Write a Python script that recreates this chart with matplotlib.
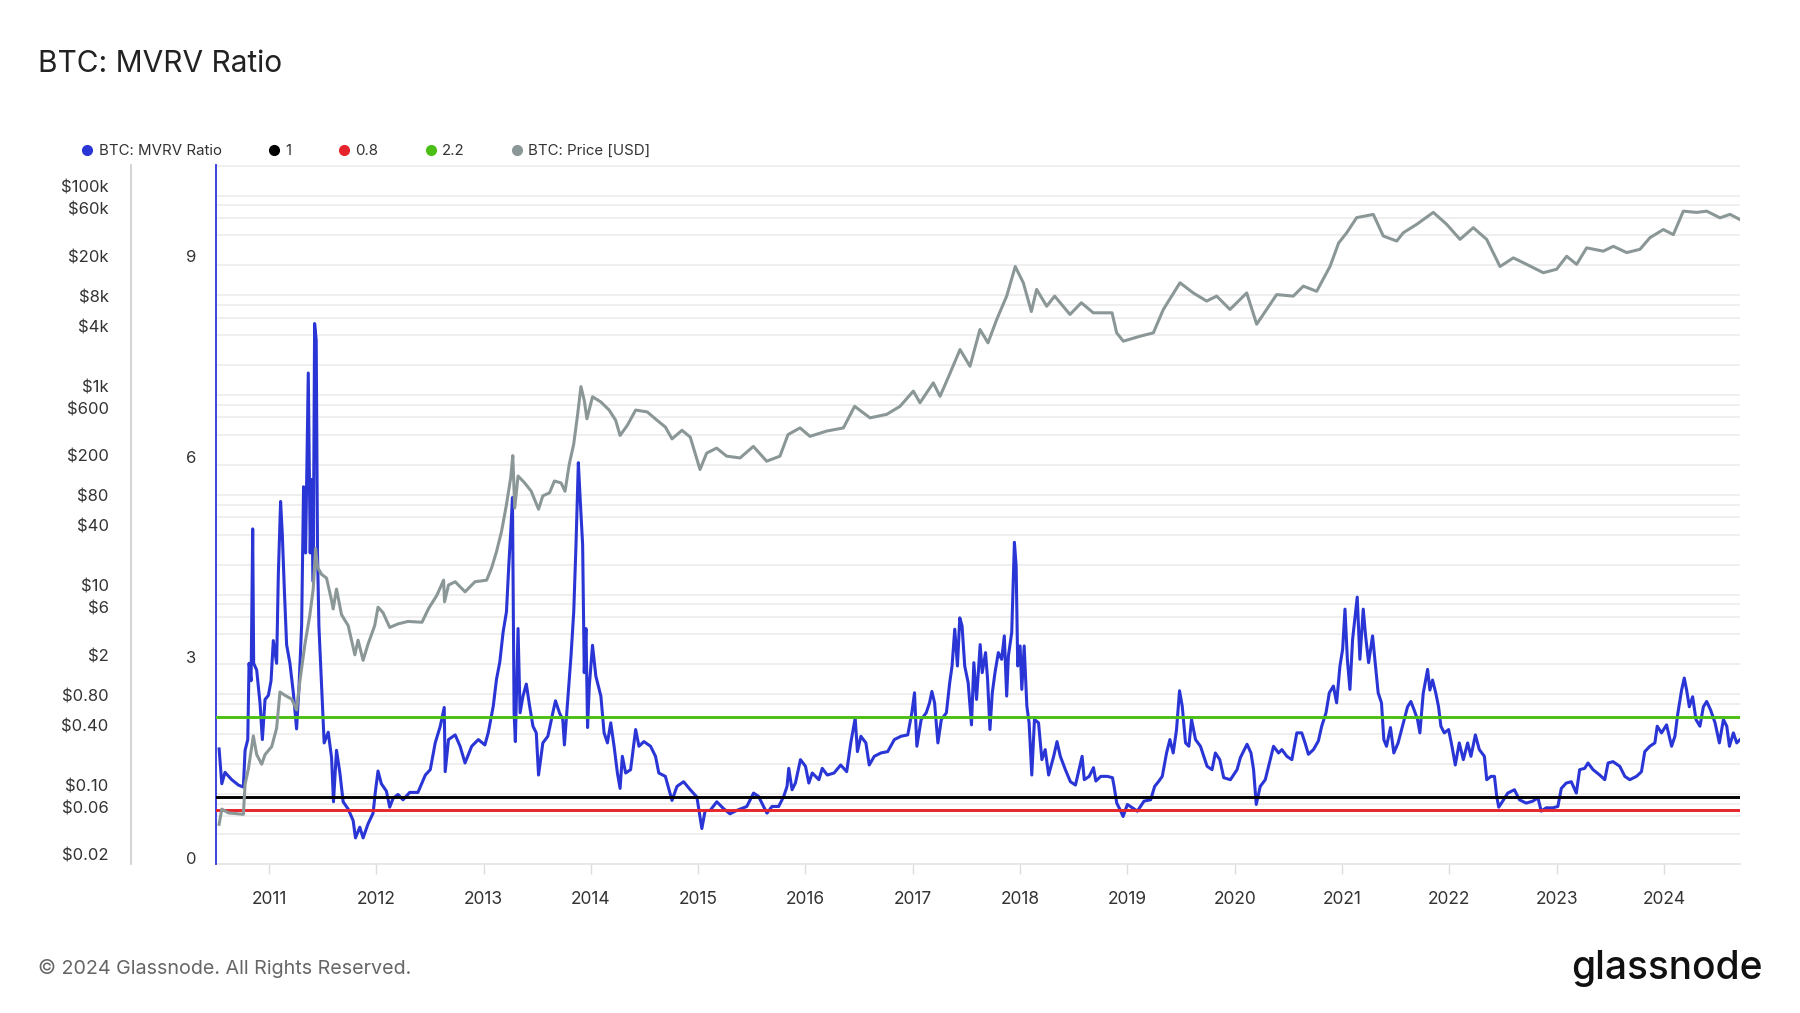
import numpy as np
import matplotlib
matplotlib.use("Agg")
import matplotlib.pyplot as plt
from matplotlib.lines import Line2D

plt.rcParams['font.family'] = ['Inter', 'DejaVu Sans']

# MVRV ratio (decimal year, value)
mvrv_year = [
    2010.535, 2010.56, 2010.59, 2010.653, 2010.715, 2010.761, 2010.777, 2010.802, 2010.814, 2010.833,
    2010.848, 2010.857, 2010.885, 2010.916, 2010.938, 2010.963, 2010.994, 2011.019, 2011.04, 2011.071,
    2011.087, 2011.108, 2011.124, 2011.143, 2011.164, 2011.195, 2011.226, 2011.257, 2011.279, 2011.304,
    2011.322, 2011.341, 2011.366, 2011.384, 2011.397, 2011.412, 2011.425, 2011.44, 2011.452, 2011.465,
    2011.49, 2011.514, 2011.552, 2011.583, 2011.601, 2011.629, 2011.66, 2011.691, 2011.738, 2011.784,
    2011.806, 2011.846, 2011.877, 2011.923, 2011.97, 2011.992, 2012.016, 2012.047, 2012.094, 2012.125,
    2012.156, 2012.202, 2012.249, 2012.311, 2012.388,
    2012.457, 2012.503, 2012.549, 2012.596, 2012.633, 2012.642, 2012.673, 2012.735, 2012.781, 2012.827,
    2012.889, 2012.951, 2013.012, 2013.043, 2013.09, 2013.12, 2013.151, 2013.182, 2013.213, 2013.235,
    2013.253, 2013.269, 2013.284, 2013.296, 2013.321, 2013.34, 2013.367, 2013.398, 2013.429, 2013.46,
    2013.491, 2013.512, 2013.552, 2013.599, 2013.645, 2013.67, 2013.707, 2013.738, 2013.753, 2013.784,
    2013.815, 2013.84, 2013.861, 2013.883, 2013.901, 2013.923, 2013.938, 2013.954, 2013.969, 2013.985,
    2014.015, 2014.046, 2014.093, 2014.123, 2014.154, 2014.185, 2014.216, 2014.247, 2014.272, 2014.293,
    2014.324, 2014.37, 2014.417, 2014.448, 2014.494, 2014.556, 2014.602, 2014.633, 2014.694, 2014.756,
    2014.802, 2014.864, 2014.926, 2014.988, 2015.034, 2015.065, 2015.111, 2015.173, 2015.235, 2015.296,
    2015.358,
    2015.453, 2015.516, 2015.563, 2015.609, 2015.641, 2015.688, 2015.75, 2015.797, 2015.828, 2015.844,
    2015.875, 2015.906, 2015.953, 2016.0, 2016.031, 2016.063, 2016.125, 2016.156, 2016.203, 2016.266,
    2016.328, 2016.384, 2016.422, 2016.463, 2016.484, 2016.516, 2016.563, 2016.594, 2016.641, 2016.703,
    2016.766, 2016.828, 2016.891, 2016.953, 2016.991, 2017.016, 2017.038, 2017.078, 2017.125, 2017.156,
    2017.178, 2017.203, 2017.234, 2017.266, 2017.313, 2017.344, 2017.366, 2017.391, 2017.416, 2017.438,
    2017.459, 2017.484, 2017.516, 2017.547, 2017.569, 2017.594, 2017.628, 2017.647, 2017.678, 2017.697,
    2017.719, 2017.741, 2017.766, 2017.797, 2017.828, 2017.853, 2017.875, 2017.891, 2017.922, 2017.947,
    2017.963, 2017.978, 2018.0, 2018.016, 2018.038, 2018.063, 2018.084, 2018.109, 2018.134, 2018.172,
    2018.203, 2018.234, 2018.266, 2018.313, 2018.344, 2018.375, 2018.422, 2018.469, 2018.516, 2018.578,
    2018.598, 2018.644, 2018.684, 2018.706, 2018.752, 2018.814, 2018.861, 2018.876, 2018.901, 2018.932,
    2018.96, 2019.0, 2019.046, 2019.093, 2019.155, 2019.217, 2019.254, 2019.294, 2019.325, 2019.365,
    2019.396, 2019.427, 2019.458, 2019.486, 2019.511, 2019.542, 2019.573, 2019.598, 2019.635, 2019.681,
    2019.743, 2019.789, 2019.82, 2019.861, 2019.898, 2019.96, 2020.022, 2020.053, 2020.115, 2020.152,
    2020.176, 2020.201, 2020.238, 2020.285, 2020.331, 2020.362, 2020.409, 2020.44, 2020.486, 2020.533,
    2020.579, 2020.625, 2020.656, 2020.687, 2020.734, 2020.78, 2020.811, 2020.851, 2020.882, 2020.92,
    2020.95, 2020.981, 2021.006, 2021.028, 2021.05, 2021.074, 2021.099, 2021.121, 2021.142, 2021.167,
    2021.198, 2021.22, 2021.248, 2021.285, 2021.316, 2021.337, 2021.368, 2021.39, 2021.415, 2021.452,
    2021.483, 2021.523,
    2021.564, 2021.611, 2021.642, 2021.673, 2021.704, 2021.726, 2021.757, 2021.798, 2021.819, 2021.844,
    2021.875, 2021.9, 2021.922, 2021.953, 2021.994, 2022.025, 2022.056, 2022.093, 2022.131, 2022.171,
    2022.202, 2022.243, 2022.28, 2022.327, 2022.349, 2022.389, 2022.421, 2022.442, 2022.461, 2022.498,
    2022.545, 2022.607, 2022.654, 2022.717, 2022.779, 2022.826, 2022.857, 2022.903, 2022.966, 2023.012,
    2023.044, 2023.09, 2023.137, 2023.184, 2023.215, 2023.262, 2023.293, 2023.34, 2023.402, 2023.449,
    2023.48, 2023.526, 2023.589, 2023.636, 2023.682, 2023.745, 2023.791, 2023.822, 2023.869, 2023.916,
    2023.938, 2023.978, 2024.025, 2024.072, 2024.103, 2024.128, 2024.165, 2024.19, 2024.212, 2024.237,
    2024.268, 2024.299, 2024.336, 2024.368, 2024.399, 2024.436, 2024.477, 2024.517, 2024.555, 2024.586,
    2024.611, 2024.648, 2024.679, 2024.71,
]
mvrv = [
    1.72, 1.20, 1.37, 1.26, 1.18, 1.15, 1.70, 1.86, 3.00, 2.74,
    5.01, 3.00, 2.90, 2.41, 1.86, 2.46, 2.52, 2.74, 3.34, 3.00,
    4.33, 5.42, 4.93, 4.10, 3.28, 3.00, 2.57, 2.02, 2.63, 3.56,
    5.64, 4.65, 7.34, 4.65, 5.75, 4.22, 8.08, 7.83, 4.65, 3.56,
    2.68, 1.81, 1.97, 1.59, 0.93, 1.70, 1.37, 0.93, 0.82, 0.65,
    0.39, 0.55, 0.39, 0.60, 0.76, 1.09, 1.39, 1.20, 1.09, 0.85,
    0.98, 1.04, 0.96, 1.07, 1.07,
    1.33, 1.41, 1.81, 2.06, 2.34, 1.38, 1.86, 1.93, 1.76, 1.51,
    1.76, 1.86, 1.78, 1.96, 2.36, 2.76, 3.02, 3.47, 3.77, 4.47,
    4.97, 5.48, 2.26, 1.83, 3.52, 2.26, 2.51, 2.69, 2.36, 2.06,
    1.96, 1.33, 1.81, 1.91, 2.26, 2.44, 2.26, 2.16, 1.78, 2.46,
    3.12, 3.77, 4.77, 6.00, 5.43, 4.77, 2.86, 3.52, 2.04, 2.66,
    3.27, 2.81, 2.51, 1.96, 1.81, 2.11, 1.76, 1.36, 1.13, 1.61,
    1.36, 1.41, 2.01, 1.76, 1.83, 1.76, 1.61, 1.36, 1.31, 0.95,
    1.16, 1.23, 1.11, 1.00, 0.53, 0.80, 0.80, 0.93, 0.83, 0.75,
    0.80,
    0.86, 1.06, 1.01, 0.86, 0.76, 0.86, 0.86, 1.01, 1.16, 1.43,
    1.11, 1.21, 1.56, 1.46, 1.21, 1.36, 1.26, 1.43, 1.33, 1.36,
    1.48, 1.38, 1.81, 2.18, 1.68, 1.91, 1.81, 1.48, 1.61, 1.66,
    1.68, 1.86, 1.91, 1.93, 2.26, 2.56, 1.76, 2.16, 2.26, 2.41,
    2.58, 2.41, 1.81, 2.16, 2.26, 2.71, 2.96, 3.51, 2.96, 3.68,
    3.56, 2.96, 2.71, 2.08, 3.01, 2.46, 3.28, 2.86, 3.16, 2.76,
    2.01, 2.56, 2.86, 3.16, 3.06, 3.41, 2.51, 3.11, 3.46, 4.81,
    4.46, 2.96, 3.26, 2.61, 3.26, 2.36, 2.11, 1.33, 2.16, 2.11,
    1.56, 1.71, 1.33, 1.61, 1.83, 1.61, 1.41, 1.23, 1.18, 1.61,
    1.26, 1.31, 1.44, 1.24, 1.31, 1.31, 1.29, 1.16, 0.91, 0.81,
    0.71, 0.89, 0.84, 0.79, 0.94, 0.96, 1.16, 1.24, 1.31, 1.66,
    1.86, 1.66, 2.01, 2.59, 2.36, 1.81, 1.76, 2.16, 1.86, 1.76,
    1.46, 1.41, 1.66, 1.56, 1.29, 1.26, 1.41, 1.59, 1.79, 1.66,
    1.41, 0.89, 1.16, 1.26, 1.56, 1.76, 1.66, 1.71, 1.61, 1.56,
    1.96, 1.96, 1.81, 1.64, 1.71, 1.84, 2.06, 2.26, 2.56, 2.66,
    2.41, 2.96, 3.21, 3.81, 3.06, 2.61, 3.36, 3.69, 3.99, 3.06,
    3.81, 3.41, 3.01, 3.41, 2.91, 2.56, 2.41, 1.86, 1.76, 2.04,
    1.66, 1.81,
    2.06, 2.35, 2.43, 2.30, 2.16, 1.96, 2.55, 2.91, 2.60, 2.75,
    2.55, 2.35, 2.06, 1.96, 2.01, 1.76, 1.48, 1.81, 1.56, 1.81,
    1.61, 1.93, 1.71, 1.61, 1.26, 1.31, 1.31, 1.01, 0.85, 0.94,
    1.06, 1.11, 0.96, 0.91, 0.94, 0.99, 0.79, 0.84, 0.84, 0.86,
    1.13, 1.21, 1.23, 1.06, 1.41, 1.43, 1.51, 1.41, 1.33, 1.26,
    1.51, 1.53, 1.46, 1.31, 1.26, 1.31, 1.38, 1.68, 1.76, 1.81,
    2.06, 1.96, 2.08, 1.76, 1.91, 2.23, 2.60, 2.78, 2.60, 2.35,
    2.50, 2.16, 2.06, 2.35, 2.43, 2.30, 2.11, 1.81, 2.16, 2.06,
    1.76, 1.96, 1.81, 1.86,
]

# BTC price in USD (decimal year, value)
price_year = [
    2010.535, 2010.56, 2010.622, 2010.761, 2010.777, 2010.808, 2010.854, 2010.885, 2010.932, 2010.963,
    2011.025, 2011.071, 2011.102, 2011.149, 2011.211, 2011.257, 2011.288, 2011.335, 2011.381, 2011.412,
    2011.434, 2011.452, 2011.49, 2011.536, 2011.583, 2011.598, 2011.629, 2011.676, 2011.738, 2011.8,
    2011.83, 2011.877, 2011.923, 2011.985, 2012.016, 2012.063, 2012.125, 2012.202, 2012.295, 2012.426,
    2012.488, 2012.565, 2012.627, 2012.636, 2012.673, 2012.735, 2012.827, 2012.92, 2013.028, 2013.074,
    2013.12, 2013.167, 2013.213, 2013.253, 2013.272, 2013.29, 2013.321, 2013.383, 2013.444, 2013.512,
    2013.552, 2013.614, 2013.66, 2013.722, 2013.759, 2013.799, 2013.84, 2013.877, 2013.907, 2013.938,
    2013.963, 2014.015, 2014.093, 2014.17, 2014.231, 2014.272, 2014.34, 2014.417, 2014.525, 2014.617,
    2014.694, 2014.756, 2014.849, 2014.926,
    2015.017, 2015.079, 2015.172, 2015.265, 2015.39, 2015.514, 2015.638, 2015.762, 2015.837, 2015.949,
    2016.042, 2016.197, 2016.353, 2016.458, 2016.601, 2016.757, 2016.881, 2017.005, 2017.067, 2017.191,
    2017.254, 2017.347, 2017.44, 2017.533, 2017.626, 2017.701, 2017.782, 2017.875, 2017.955, 2018.03,
    2018.105, 2018.154, 2018.248, 2018.322, 2018.465, 2018.571, 2018.682, 2018.857, 2018.9, 2018.962,
    2019.117, 2019.242, 2019.335, 2019.49, 2019.614, 2019.739, 2019.832, 2019.956, 2020.112, 2020.205,
    2020.298, 2020.391, 2020.546, 2020.64, 2020.764, 2020.888, 2020.969, 2021.044, 2021.137, 2021.292,
    2021.385, 2021.51, 2021.571, 2021.696, 2021.851, 2021.976, 2022.1, 2022.224, 2022.348, 2022.473,
    2022.597, 2022.721, 2022.876, 2023.0, 2023.094, 2023.187, 2023.28, 2023.435, 2023.529, 2023.653,
    2023.777, 2023.871, 2023.995, 2024.088, 2024.181, 2024.306, 2024.399, 2024.523, 2024.616, 2024.709,
]
price = [
    0.05, 0.071, 0.065, 0.063, 0.126, 0.18, 0.385, 0.25, 0.2, 0.25,
    0.3, 0.46, 1.06, 0.98, 0.9, 0.7, 1.37, 3.2, 6.3, 11.4,
    29, 18.9, 16, 14.7, 8.8, 7.2, 11.4, 6.3, 4.9, 2.5,
    3.5, 2.2, 3.2, 4.9, 7.5, 6.6, 4.7, 5.1, 5.4, 5.3,
    7.3, 9.9, 14, 8.5, 12.5, 13.5, 10.7, 13.5, 14, 18.5,
    27, 43, 80, 150, 248, 74, 155, 132, 109, 72,
    98, 105, 138, 132, 109, 205, 325, 650, 1220, 890,
    580, 965, 855, 710, 560, 395, 500, 710, 680, 560,
    480, 365, 445, 380,
    180, 263, 295, 245, 235, 307, 218, 245, 403, 470,
    387, 437, 470, 774, 593, 643, 774, 1100, 840, 1330,
    975, 1660, 2870, 1950, 4560, 3350, 5740, 9850, 19500, 13400,
    6900, 11500, 7800, 9850, 6450, 8450, 6700, 6700, 4220, 3480,
    3900, 4220, 7240, 13400, 10600, 8780, 9850, 7240, 10600, 5150,
    7240, 10200, 9850, 12400, 11000, 19500, 33600, 42500, 60300, 64900,
    39400, 35100, 42500, 51600, 68000, 51600, 36500, 47800, 36500, 19500,
    23800, 20500, 16900, 18300, 24700, 20500, 30000, 27800, 31100, 26900,
    29000, 38000, 45800, 40700, 70000, 68000, 70000, 60000, 65000, 57700,
]

# horizontal reference levels
levels = [1, 0.8, 2.2]
level_colors = ['#000000', '#e5242b', '#4cbf17']

years = list(range(2011, 2025))
price_ticks = [0.02, 0.06, 0.10, 0.40, 0.80, 2, 6, 10, 40, 80, 200, 600,
               1000, 4000, 8000, 20000, 60000, 100000]
price_labels = ['$0.02', '$0.06', '$0.10', '$0.40', '$0.80', '$2', '$6', '$10',
                '$40', '$80', '$200', '$600', '$1k', '$4k', '$8k', '$20k', '$60k', '$100k']
mvrv_ticks = [0, 3, 6, 9]

blue = '#2a35d6'
grey = '#8b9797'
txt = '#333333'

fig = plt.figure(figsize=(18, 10.13), dpi=100)
ax_p = fig.add_axes([0.12, 0.1471, 0.8467, 0.69])

x0, x1 = 2010.506, 2024.71
p_lo, p_hi = 0.02, 203000

# base axes: price scale + grid
ax_p.set_yscale('log')
ax_p.set_xlim(x0, x1)
ax_p.set_ylim(p_lo, p_hi)
for k in range(-2, 6):
    for m in (1, 2, 4, 6, 8):
        v = m * 10.0 ** k
        if p_lo < v < p_hi:
            ax_p.axhline(v, color='#ececec', lw=1.2, zorder=0)
ax_p.set_yticks(price_ticks, price_labels)
ax_p.yaxis.set_minor_locator(matplotlib.ticker.NullLocator())
ax_p.tick_params(axis='y', which='both', length=0, pad=16, labelsize=12, labelcolor=txt)
ax_p.spines['left'].set_position(('axes', -0.0558))
ax_p.spines['left'].set_color('#cccccc')
ax_p.spines['left'].set_linewidth(1.2)
ax_p.spines['bottom'].set_color('#e3e3e3')
ax_p.spines['bottom'].set_linewidth(1.2)
for s in ('top', 'right'):
    ax_p.spines[s].set_visible(False)
ax_p.set_xticks(years, [str(y) for y in years])
ax_p.tick_params(axis='x', length=7, width=1, color='#dddddd', pad=12.5,
                 labelsize=12.5, labelcolor=txt)

# MVRV axes
ax_m = ax_p.twinx()
ax_m.yaxis.set_ticks_position('left')
ax_m.yaxis.set_label_position('left')
ax_m.set_ylim(0, 10.45)
ax_m.set_xlim(x0, x1)
ax_m.plot(mvrv_year, mvrv, color=blue, lw=2.2, zorder=2)
for lv, c in zip(levels, level_colors):
    ax_m.axhline(lv, color=c, lw=2.1, zorder=3)
ax_m.set_yticks(mvrv_ticks, [str(t) for t in mvrv_ticks])
ax_m.tick_params(axis='y', length=0, pad=14, labelsize=12, labelcolor=txt)
for s in ('top', 'right', 'bottom'):
    ax_m.spines[s].set_visible(False)
ax_m.spines['left'].set_color(blue)
ax_m.spines['left'].set_linewidth(1.3)

# price line on top
ax_l = ax_p.twinx()
ax_l.set_yscale('log')
ax_l.set_ylim(p_lo, p_hi)
ax_l.set_xlim(x0, x1)
ax_l.plot(price_year, price, color=grey, lw=2.2)
ax_l.axis('off')

# title, legend, footer
fig.text(0.0211, 0.9368, 'BTC: MVRV Ratio', fontsize=21.5, color='#222222', va='center')

handles = [Line2D([], [], marker='o', ls='none', ms=7, color=c)
           for c in [blue, '#000000', '#e5242b', '#4cbf17', grey]]
names = ['BTC: MVRV Ratio', '1', '0.8', '2.2', 'BTC: Price [USD]']
fig.legend(handles, names, loc='center left', bbox_to_anchor=(0.046, 0.851),
           ncol=5, frameon=False, fontsize=10.8, labelcolor=txt,
           handlelength=0.6, handletextpad=0.45, columnspacing=3.2,
           borderpad=0, borderaxespad=0)

fig.text(0.0211, 0.0444, '\u00a9 2024 Glassnode. All Rights Reserved.',
         fontsize=14.2, color='#666666', va='center')
fig.text(0.979, 0.0444, 'glassnode', fontsize=28, color='#111111',
         ha='right', va='center', fontweight='medium')

# tick labels sit just above their grid line, as in the original
fig.canvas.draw()
for lab in ax_p.get_yticklabels():
    lab.set_verticalalignment('bottom')
for lab in ax_m.get_yticklabels():
    lab.set_verticalalignment('baseline')

fig.savefig('out.png', dpi=100)
